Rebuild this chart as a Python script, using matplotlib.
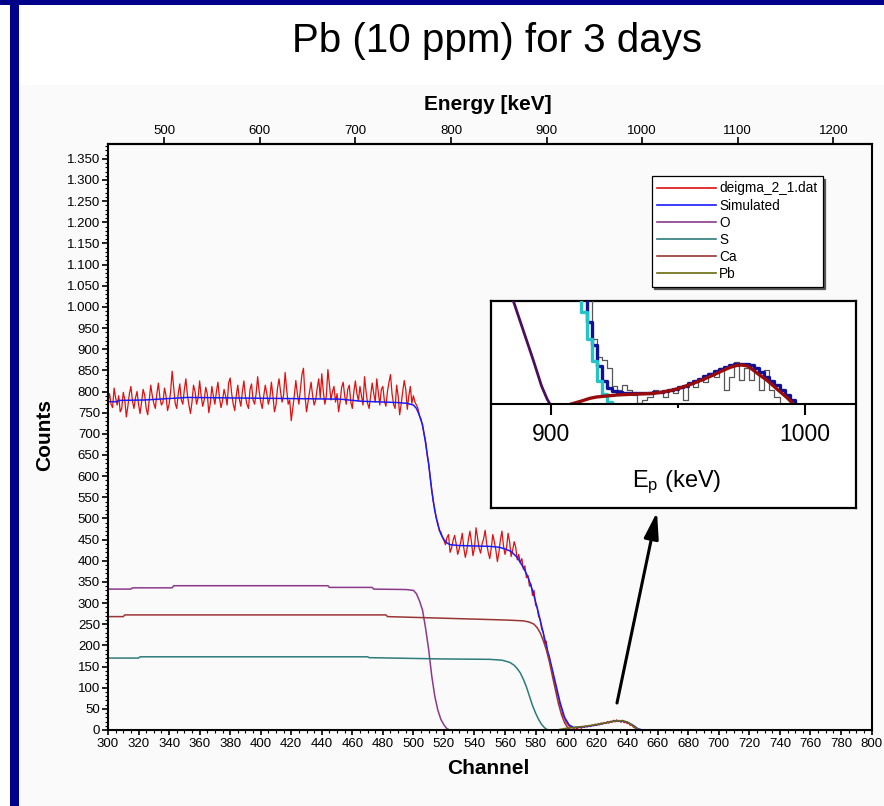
import matplotlib
matplotlib.use("Agg")
import matplotlib.pyplot as plt
from matplotlib.patches import Rectangle, FancyArrowPatch
from matplotlib.ticker import MultipleLocator, FuncFormatter, NullLocator
import numpy as np

plt.rcParams['font.family'] = ['Liberation Sans', 'DejaVu Sans']
plt.rcParams['mathtext.fontset'] = 'custom'
plt.rcParams['mathtext.rm'] = 'Liberation Sans'
plt.rcParams['mathtext.it'] = 'Liberation Sans:italic'
plt.rcParams['mathtext.bf'] = 'Liberation Sans:bold'

W, H, DPI = 884, 806, 100

# ---------------- measured spectrum, one value per channel from 300 ----------------
data_start = 300
data_counts = [
    775, 795, 770, 762, 808, 785, 768, 790, 752, 760,
    798, 780, 740, 765, 795, 812, 778, 760, 785, 800,
    770, 748, 775, 805, 792, 760, 745, 780, 815, 790,
    772, 760, 795, 820, 785, 768, 775, 808, 790, 755,
    770, 800, 848, 810, 772, 760, 795, 818, 780, 770,
    805, 830, 792, 768, 748, 775, 815, 800, 770, 785,
    825, 790, 765, 780, 810, 795, 750, 772, 812, 790,
    770, 800, 822, 785, 762, 778, 805, 790, 768, 820,
    832, 795, 770, 755, 790, 815, 782, 765, 800, 825,
    788, 770, 760, 805, 818, 780, 770, 795, 835, 800,
    775, 760, 790, 815, 795, 770, 785, 822, 790, 752,
    768, 808, 830, 800, 775, 792, 845, 805, 770, 780,
    731, 760, 790, 826, 795, 770, 805, 840, 855, 790,
    752, 775, 800, 822, 790, 768, 780, 808, 830, 785,
    842, 800, 770, 790, 852, 815, 780, 800, 812, 775,
    795, 752, 775, 810, 822, 790, 770, 805, 815, 775,
    760, 800, 825, 795, 778, 812, 790, 768, 835, 800,
    772, 760, 790, 820, 796, 775, 830, 800, 768, 805,
    812, 778, 765, 800, 822, 840, 795, 770, 760, 815,
    790, 745, 770, 800, 826, 805, 758, 790, 812, 772,
    790, 775, 768, 760, 742, 735, 718, 700, 682, 650,
    630, 598, 570, 540, 522, 500, 490, 470, 468, 455,
    448, 438, 455, 462, 420, 430, 448, 460, 440, 415,
    428, 445, 465, 430, 408, 425, 450, 470, 445, 412,
    430, 478, 455, 430, 418, 440, 452, 472, 440, 420,
    405, 430, 462, 445, 425, 398, 420, 450, 470, 435,
    415, 430, 465, 445, 410, 425, 445, 432, 402, 415,
    395, 405, 380, 388, 360, 365, 340, 345, 318, 330,
    295, 290, 268, 262, 238, 232, 205, 210, 180, 175,
    150, 140, 118, 108, 86, 78, 58, 50, 34, 28,
    18, 14, 9, 7, 5, 4, 6, 3, 5, 7,
    4, 8, 6, 9, 7, 11, 8, 12, 10, 14,
    11, 15, 12, 17, 14, 18, 15, 20, 16, 21,
    18, 23, 19, 24, 20, 22, 18, 23, 17, 20,
    15, 16, 11, 12, 7, 5, 2, 1, 0,
]
data_channel = [data_start + i for i in range(len(data_counts))]

# ---------------- simulated total ----------------
sim_channel = [300, 306, 307, 324, 352, 452, 466, 489, 496, 500, 502, 504, 506, 508,
               510, 512, 514, 516, 518, 520, 522, 524, 530, 540, 550, 556, 560, 564,
               568, 572, 575, 578, 581, 584, 587, 590, 593, 596, 599, 602, 605, 610,
               615, 620, 625, 630, 635, 640, 644, 647, 650]
sim_counts = [776, 776, 779, 780, 786, 782, 777, 774, 772, 768, 760, 743, 721, 678,
              628, 566, 518, 485, 463, 450, 442, 438, 436, 435, 434, 432, 428, 422,
              408, 384, 362, 330, 290, 245, 200, 158, 112, 66, 30, 12, 6, 7,
              9, 12, 16, 20, 22, 19, 11, 3, 0]

# ---------------- element contributions ----------------
o_channel = [300, 315, 316, 342, 343, 444, 445, 473, 474, 495, 500, 502, 504, 506,
             508, 510, 512, 514, 516, 518, 520, 522, 524]
o_counts = [333, 333, 336, 336, 341, 341, 337, 337, 333, 332, 330, 322, 305, 283,
            240, 190, 128, 80, 47, 25, 12, 3, 0]

s_channel = [300, 320, 321, 470, 471, 518, 550, 558, 563, 566, 568, 570, 572, 574,
             576, 578, 580, 582, 584, 586, 588]
s_counts = [170, 170, 173, 173, 171, 168, 167, 165, 160, 153, 145, 135, 120, 102,
            80, 58, 40, 25, 13, 5, 0]

ca_channel = [300, 310, 311, 482, 483, 512, 560, 572, 576, 579, 581, 583, 585, 587,
              589, 591, 593, 595, 597, 599, 601, 603]
ca_counts = [268, 268, 272, 272, 268, 265, 260, 258, 255, 250, 242, 230, 212, 190,
             162, 128, 95, 62, 36, 17, 6, 0]

pb_channel = [594, 600, 605, 610, 615, 620, 625, 630, 634, 637, 640, 643, 646, 648]
pb_counts = [0, 4, 6, 8, 10, 13, 16, 20, 22, 22, 19, 12, 4, 0]

series_labels = ['deigma_2_1.dat', 'Simulated', 'O', 'S', 'Ca', 'Pb']
series_colors = ['#dd1111', '#1a1aff', '#8b3a8b', '#2e7b7b', '#9a3535', '#6b6b10']

channel_ticks = list(range(300, 801, 20))
count_ticks = list(range(0, 1351, 50))
energy_ticks = [500, 600, 700, 800, 900, 1000, 1100, 1200]

# energy calibration of the detector (keV per channel)
E_OFFSET, E_GAIN = 441.0, 1.598

# ---------------- zoomed Pb region (energy in keV) ----------------
zoom_o_energy = [883.0, 885.2, 889.1, 893.0, 896.3, 898.5, 899.6]
zoom_o_counts = [72, 63, 45, 27, 11, 3, 0]

zoom_s_energy = [906, 908, 910, 912, 914, 916, 918, 920, 922, 924, 925]
zoom_s_counts = [95, 90, 75, 56, 40, 26, 14, 6, 1.5, 0.3, 0]

zoom_sim_energy = [910, 912, 914, 916, 918, 920, 922, 924, 926, 928, 930, 932, 934,
                   936, 938, 940, 942, 944, 946, 948, 950, 952, 954, 956, 958, 960,
                   962, 964, 966, 968, 970, 972, 974, 976, 978, 980, 982, 984, 986,
                   988, 990, 992, 994, 996]
zoom_sim_counts = [90, 75, 50, 36, 23, 14, 10, 8, 7.2, 6.8, 6.5, 6.5, 6.6,
                   6.8, 7.0, 7.3, 7.6, 8.0, 8.6, 9.3, 10.2, 11.3, 12.6, 14.0, 15.5, 17.0,
                   18.5, 20.0, 21.5, 22.7, 23.6, 24.3, 24.7, 24.6, 23.6, 21.8, 19.3, 16.4, 14.0,
                   11.6, 8.4, 5.5, 2.6, 0]

zoom_pb_energy = [908, 912, 915.4, 918, 921.9, 926, 931, 936, 940.3, 944, 948.2, 952,
                  956, 960, 963.9, 967, 970.5, 973, 975, 977.5, 979.6, 982, 984.9,
                  987.5, 990.2, 993, 995.4]
zoom_pb_counts = [0, 1.8, 3.5, 4.3, 4.9, 5.5, 5.9, 6.2, 6.5, 7.3, 8.6, 10.4,
                  12.6, 15.1, 17.7, 20.0, 22.4, 23.5, 23.9, 23.2, 20.8, 17.9, 14.7,
                  11.2, 7.5, 3.8, 0]

zoom_data_energy = [914, 916, 918, 920, 922, 924, 926, 928, 930, 932, 934, 936, 938,
                    940, 942, 944, 946, 948, 950, 952, 954, 956, 958, 960, 962, 964,
                    966, 968, 970, 972, 974, 976, 978, 980, 982, 984, 986, 988, 990]
zoom_data_counts = [80, 40, 29, 27, 22, 11, 8.6, 11.6, 8.6, 5.5, 0.4, 2.4, 4.5,
                    8.6, 7.5, 4.5, 8.6, 6.5, 9.6, 2.4, 12.6, 10.6, 14.7, 13.7, 18.8, 16.7,
                    21.8, 8.6, 16.7, 25.9, 14.7, 21.8, 14.7, 19.8, 8.6, 20.8, 8.6, 4.5, 0]

zoom_ticks = [900, 1000]


def px_box(left, top, right, bottom):
    return [left / W, 1 - bottom / H, (right - left) / W, (bottom - top) / H]


def fig_xy(x, y):
    return (x / W, 1 - y / H)


fig = plt.figure(figsize=(W / DPI, H / DPI), dpi=DPI, facecolor='white')

# slide decoration: navy bars and light panel
fig.patches.append(Rectangle((19 / W, 0), 1 - 19 / W, 1 - 85 / H, transform=fig.transFigure,
                             facecolor='#fafafa', edgecolor='none', zorder=-10))
fig.patches.append(Rectangle((0, 1 - 5 / H), 1, 5 / H, transform=fig.transFigure,
                             facecolor='#00008a', edgecolor='none', zorder=-5))
fig.patches.append(Rectangle((10 / W, 0), 9 / W, 1, transform=fig.transFigure,
                             facecolor='#00008a', edgecolor='none', zorder=-5))

fig.text(*fig_xy(497, 41), 'Pb (10 ppm) for 3 days', ha='center', va='center',
         fontsize=29)

# ---------------- main spectrum ----------------
ax = fig.add_axes(px_box(108, 144, 871.5, 730))
ax.set_facecolor('none')

ax.plot(data_channel, data_counts, color=series_colors[0], lw=0.9, label=series_labels[0])
ax.plot(sim_channel, sim_counts, color=series_colors[1], lw=1.1, label=series_labels[1])
ax.plot(o_channel, o_counts, color=series_colors[2], lw=1.1, label=series_labels[2])
ax.plot(s_channel, s_counts, color=series_colors[3], lw=1.1, label=series_labels[3])
ax.plot(ca_channel, ca_counts, color=series_colors[4], lw=1.1, label=series_labels[4])
ax.plot(pb_channel, pb_counts, color=series_colors[5], lw=1.1, label=series_labels[5])

ax.set_xlim(300, 800)
ax.set_ylim(0, 1385)
ax.set_xticks(channel_ticks)
ax.set_yticks(count_ticks)
ax.xaxis.set_minor_locator(MultipleLocator(5))
ax.yaxis.set_minor_locator(MultipleLocator(10))
ax.yaxis.set_major_formatter(FuncFormatter(lambda v, p: f"{int(v):,}".replace(',', '.')))
ax.tick_params(which='major', direction='out', width=1.2, labelsize=9.5,
               top=False, right=False)
ax.tick_params(which='minor', direction='out', length=2.0, width=0.8, top=False, right=False)
ax.tick_params(axis='x', which='major', length=3.6, pad=2.5)
ax.tick_params(axis='y', which='major', length=4.3, pad=1.5)
for side in ['left', 'bottom', 'top', 'right']:
    ax.spines[side].set_linewidth(1.5)

ax.set_xlabel('Channel', fontsize=15, fontweight='bold')
ax.set_ylabel('Counts', fontsize=15, fontweight='bold')
ax.xaxis.set_label_coords(*fig_xy(488, 768), transform=fig.transFigure)
ax.xaxis.label.set_va('center')
ax.yaxis.set_label_coords(*fig_xy(45, 435), transform=fig.transFigure)
ax.yaxis.label.set_va('center')


def ch2e(c):
    return E_OFFSET + E_GAIN * (np.asarray(c, dtype=float) - 300)


def e2ch(e):
    return 300 + (np.asarray(e, dtype=float) - E_OFFSET) / E_GAIN


sec = ax.secondary_xaxis('top', functions=(ch2e, e2ch))
sec.set_xticks(energy_ticks)
sec.xaxis.set_minor_locator(NullLocator())
sec.tick_params(direction='out', length=4.7, width=1.2, labelsize=9.5, pad=0.3)
sec.spines['top'].set_linewidth(1.5)
sec.set_xlabel('Energy [keV]', fontsize=15, fontweight='bold')
sec.xaxis.set_label_coords(*fig_xy(488, 105), transform=fig.transFigure)
sec.xaxis.label.set_va('center')

leg = ax.legend(loc='upper left', bbox_to_anchor=fig_xy(651.7, 176),
                bbox_transform=fig.transFigure, fontsize=9.8, frameon=True,
                fancybox=False, edgecolor='black', framealpha=1,
                shadow={'color': '0.35', 'alpha': 1}, borderaxespad=0,
                borderpad=0.4, handlelength=4.3, handletextpad=0.25,
                labelspacing=0.23)
leg.get_frame().set_linewidth(0.9)
for ln in leg.get_lines():
    ln.set_linewidth(1.2)

# ---------------- zoomed panel of the Pb peak ----------------
frame = fig.add_axes(px_box(491, 301, 856, 508))
frame.set_xticks([])
frame.set_yticks([])
frame.set_facecolor('white')
for s in frame.spines.values():
    s.set_linewidth(1.6)

ins = fig.add_axes(px_box(491, 301, 856, 404))
ins.patch.set_alpha(0)
ins.set_xlim(876.4, 1020.1)
ins.set_ylim(0, 63)
for side in ['left', 'right', 'top']:
    ins.spines[side].set_visible(False)
ins.spines['bottom'].set_linewidth(1.5)
ins.set_yticks([])
ins.set_xticks(zoom_ticks)
ins.set_xticks([950], minor=True)
ins.tick_params(axis='x', which='major', direction='out', length=8, width=1.5,
                labelsize=16.5, pad=6)
ins.tick_params(axis='x', which='minor', direction='out', length=3, width=1.5)

ins.plot(zoom_o_energy, zoom_o_counts, color='#4a0e5c', lw=2.0, solid_capstyle='butt')
ins.plot(zoom_data_energy, zoom_data_counts, color='#555555', lw=0.9, drawstyle='steps-post')
ins.plot(zoom_sim_energy, zoom_sim_counts, color='#10109a', lw=2.4, drawstyle='steps-post')
ins.plot(zoom_s_energy, zoom_s_counts, color='#22c4c8', lw=2.4, drawstyle='steps-post')
ins.plot(zoom_pb_energy, zoom_pb_counts, color='#9a0c0c', lw=2.4)

ins.set_xlabel(r'E$_{\rm p}$ (keV)', fontsize=17)
ins.xaxis.set_label_coords(*fig_xy(677, 486.7), transform=fig.transFigure)
ins.xaxis.label.set_va('baseline')

arrow = FancyArrowPatch(fig_xy(617, 703), fig_xy(657, 512),
                        transform=fig.transFigure,
                        arrowstyle='-|>,head_length=0.8,head_width=0.22',
                        mutation_scale=20, lw=2.2, color='black',
                        shrinkA=0, shrinkB=0)
fig.patches.append(arrow)

fig.savefig('out.png', dpi=DPI, facecolor=fig.get_facecolor())
